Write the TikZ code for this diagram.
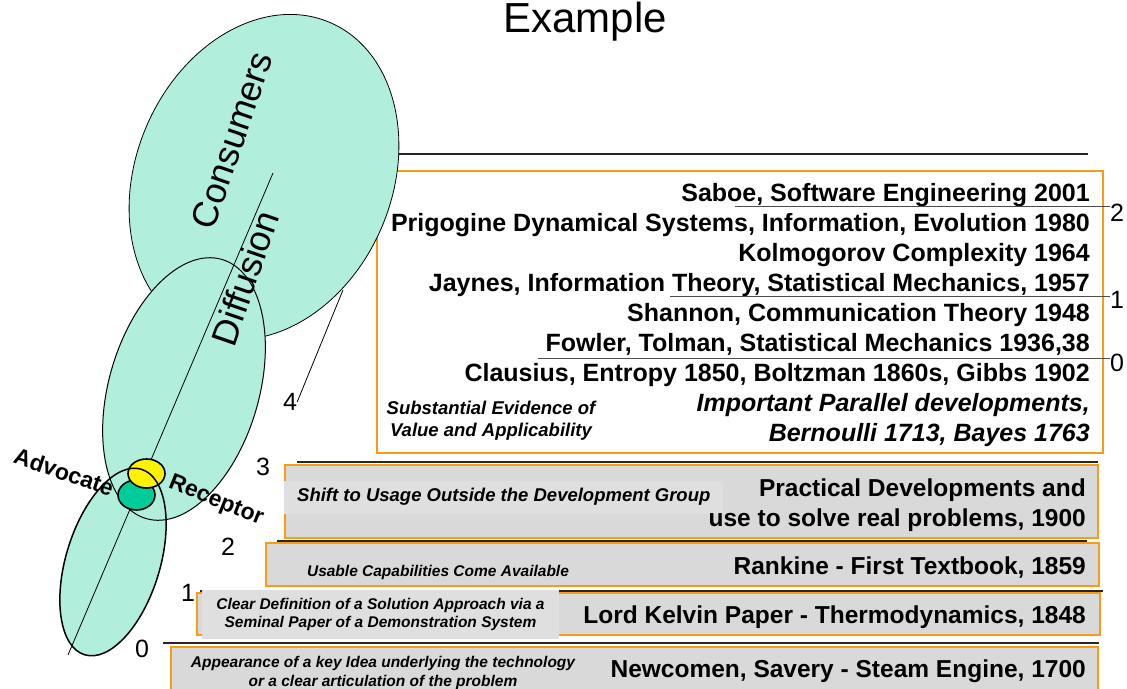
\documentclass[tikz,border=0pt]{standalone}
\usepackage{fontspec}
\setmainfont{Liberation Sans}
\usetikzlibrary{shapes.geometric}

\definecolor{mintfill}{RGB}{178,238,220}
\definecolor{stagegray}{RGB}{217,217,217}
\definecolor{notegray}{RGB}{223,223,223}
\definecolor{stageedge}{RGB}{250,155,20}
\definecolor{advgreen}{RGB}{0,204,153}

\newcommand{\stagefont}{\bfseries\fontsize{24.5}{30}\selectfont}
\newcommand{\histfont}{\bfseries\fontsize{25}{30}\selectfont}
\newcommand{\notefont}{\bfseries\itshape\fontsize{15.5}{18.5}\selectfont}
\newcommand{\bignotefont}{\bfseries\itshape\fontsize{18.5}{22}\selectfont}
\newcommand{\digitfont}{\fontsize{25}{30}\selectfont}
\newcommand{\ovalfont}{\fontsize{36}{40}\selectfont}
\newcommand{\rolefont}{\bfseries\fontsize{23}{25}\selectfont}

\begin{document}
\begin{tikzpicture}[x=1pt,y=-1pt,
  stagebox/.style={draw=stageedge,line width=1.3pt,fill=stagegray,rectangle,inner sep=0pt},
  notebox/.style={fill=notegray,rectangle,inner sep=0pt,align=center},
  rule/.style={line width=1.3pt,black!85},
  digit/.style={inner sep=0pt,font=\digitfont},
  blob/.style={fill=mintfill},
  spot/.style={draw=black,ellipse,line width=1.6pt,inner sep=0pt}]
\useasboundingbox (0,0) rectangle (1127,688);

% Title
\node[inner sep=0pt] (title) at (585,22) {\fontsize{42}{46}\selectfont Example};

% History box
\draw[rule] (397,154) -- (1088,154);
\node[draw=stageedge,line width=1.2pt,fill=white,rectangle,minimum width=726pt,minimum height=282pt] (history) at (740,312) {};
\node[anchor=east,inner sep=0pt,align=right,font=\histfont] (histtext) at (1090,315) {Saboe, Software Engineering 2001\\
Prigogine Dynamical Systems, Information, Evolution 1980\\
Kolmogorov Complexity 1964\\
Jaynes, Information Theory, Statistical Mechanics, 1957\\
Shannon, Communication Theory 1948\\
Fowler, Tolman, Statistical Mechanics 1936,38\\
Clausius, Entropy 1850, Boltzman 1860s, Gibbs 1902\\
{\itshape Important Parallel developments,}\\
{\itshape Bernoulli 1713, Bayes 1763}};
\node[inner sep=0pt,align=center,font=\bignotefont] (evidence) at (491,421) {Substantial Evidence of\\Value and Applicability};

% Ovals
\filldraw[blob,draw=black,line width=0.8pt,rotate around={67:(264,177)}] (264,177) ellipse [x radius=168pt,y radius=128pt];
\fill[blob,rotate around={73.7:(184,389)}] (184,389) ellipse [x radius=135pt,y radius=75pt];
\fill[blob,rotate around={73:(113,562)}] (113,562) ellipse [x radius=97pt,y radius=47pt];
\draw[line width=1pt,rotate around={73.7:(184,389)}] (184,389) ellipse [x radius=135pt,y radius=75pt];
\coordinate (axistop) at (273,173);
\coordinate (axisfoot) at (68,655);
\draw[line width=0.8pt] (axistop) -- (axisfoot);
\node[spot,fill=advgreen,minimum width=37pt,minimum height=30pt] (advocate) at (136.5,495) {};
\node[spot,fill=yellow,minimum width=37pt,minimum height=29pt] (receptor) at (146.5,473.5) {};
\draw[line width=1.5pt,rotate around={73:(113,562)}] (113,562) ellipse [x radius=97pt,y radius=47pt];
\node[rotate=71,inner sep=0pt] (consumers) at (232,140) {\ovalfont Consumers};
\node[rotate=71,inner sep=0pt] (diffusion) at (245,278) {\ovalfont Diffusion};
\node[rotate=-19,inner sep=0pt,font=\rolefont] (advlabel) at (64,472) {Advocate};
\node[rotate=-22,inner sep=0pt,font=\rolefont] (reclabel) at (216,501) {Receptor};

% Stage boxes
\node[stagebox,minimum width=813pt,minimum height=73pt] (s3) at (691.5,501.5) {};
\node[stagebox,minimum width=833pt,minimum height=43pt] (s2) at (682.5,564.5) {};
\node[stagebox,minimum width=903pt,minimum height=42pt] (s1) at (648.5,614) {};
\node[stagebox,minimum width=927pt,minimum height=52pt] (s0) at (634.5,673) {};
\draw[rule] (297,462) -- (1098,462);
\draw[rule] (277,541) -- (1087,541);
\draw[rule] (200,591) -- (1103,591);
\draw[rule] (163,643) -- (1099,643);

% Stage texts
\node[notebox,anchor=west,minimum height=33pt,inner xsep=13pt,font=\bignotefont] (shift) at (284,497) {Shift to Usage Outside the Development Group};
\node[anchor=east,inner sep=0pt,align=right,font=\stagefont] (practical) at (1086,505) {Practical Developments and\\use to solve real problems, 1900};
\node[inner sep=0pt,font=\notefont] (usable) at (438,572) {Usable Capabilities Come Available};
\node[anchor=east,inner sep=0pt,font=\stagefont] (rankine) at (1086,568) {Rankine - First Textbook, 1859};
\node[notebox,minimum width=357pt,minimum height=49pt,font=\notefont] (clear) at (380.5,614.5) {Clear Definition of a Solution Approach via a\\Seminal Paper of a Demonstration System};
\node[anchor=east,inner sep=0pt,font=\stagefont] (kelvin) at (1086,617) {Lord Kelvin Paper - Thermodynamics, 1848};
\node[inner sep=0pt,align=center,font=\notefont] (appear) at (383,673) {Appearance of a key Idea underlying the technology\\or a clear articulation of the problem};
\node[anchor=east,inner sep=0pt,font=\stagefont] (newcomen) at (1086,671) {Newcomen, Savery - Steam Engine, 1700};

% Level numbers
\node[digit] (n4) at (290,402) {4};
\node[digit] (n3) at (263,467) {3};
\node[digit] (n2) at (228,547) {2};
\node[digit] (n1) at (188,593) {1};
\node[digit] (n0) at (142,649) {0};
\node[digit] (r2) at (1117,213) {2};
\node[digit] (r1) at (1117,300) {1};
\node[digit] (r0) at (1117,363) {0};

% Leaders
\coordinate (oval4) at (343,290);
\draw[line width=0.8pt] (n4.east) -- (oval4);
\coordinate (l2) at (735,206);
\coordinate (l1) at (670,296);
\coordinate (l0) at (538,358);
\draw[line width=1pt,black!70] (l2) -- (l2 -| r2.west);
\draw[line width=1pt,black!70] (l1) -- (l1 -| r1.west);
\draw[line width=1pt,black!70] (l0) -- (l0 -| r0.west);
\end{tikzpicture}
\end{document}
